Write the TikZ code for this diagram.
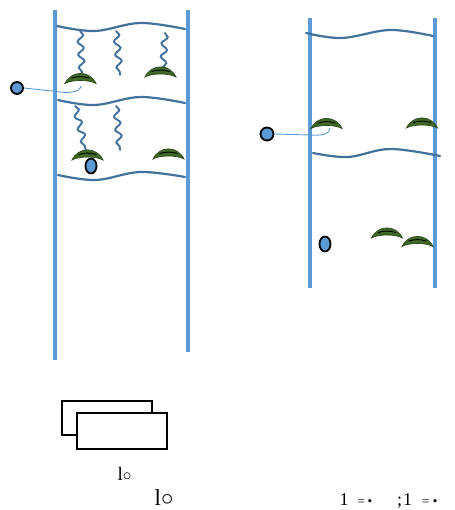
\documentclass[tikz,border=0pt]{standalone}
\usepackage{fontspec}
\setmainfont{Liberation Serif}
\usepackage{tikz}
\usetikzlibrary{decorations.pathmorphing,shapes.geometric}
\definecolor{railblue}{HTML}{5B9BD5}
\definecolor{rungblue}{HTML}{41719C}
\definecolor{browgreen}{HTML}{3F6A26}
\definecolor{browedge}{HTML}{2A4719}

\tikzset{
  rail/.style={draw=railblue, line width=3.2pt},
  rung/.style={draw=rungblue, line width=2.2pt, line cap=round},
  rope/.style={draw=rungblue, line width=1.9pt, line cap=round,
               decorate, decoration={snake, segment length=13pt, amplitude=3pt}},
  dot/.style={ellipse, draw=black, fill=railblue, line width=1.8pt, inner sep=0pt},
  thread/.style={draw=railblue, line width=0.9pt},
  card/.style={draw=black, fill=white, line width=1.8pt},
  brow/.pic={
    \fill[browgreen, draw=browedge, line width=0.7pt]
      (-15.5,5) .. controls (-9,-8.5) and (9,-8.5) .. (15.5,5)
      .. controls (9,1) and (-9,1) .. (-15.5,5) -- cycle;
    \draw[black, line width=0.9pt] (-9,-0.4) .. controls (-3,-2.4) and (3,-2.4) .. (9,-0.4);
  },
}

\begin{document}
\begin{tikzpicture}[x=1pt, y=-1pt]
\useasboundingbox (0,0) rectangle (454,510);

% left ladder
\draw[rail] (55,10) -- (55,360);
\draw[rail] (188,10) -- (188,352);
\draw[rung] plot[smooth, tension=0.6] coordinates {(57,26) (95,31) (140,23) (185,29)};
\draw[rung] plot[smooth, tension=0.6] coordinates {(58,100) (95,105) (140,97) (185,103)};
\draw[rung] plot[smooth, tension=0.6] coordinates {(58,175) (96,180) (140,172) (185,177)};

% ropes hanging from the rungs
\draw[rope] (80,31) -- (82,73);
\draw[rope] (116,31) -- (120,75);
\draw[rope] (165,33) -- (163,68);
\draw[rope] (75,106) -- (86,151);
\draw[rope] (116,106) -- (120,150);

\pic (b1) at (80.5,78.5) {brow};
\pic (b2) at (160.5,72) {brow};
\pic (b3) at (87.5,155) {brow};
\pic (b4) at (168.5,154) {brow};

\node[dot, minimum width=12, minimum height=12] (c1) at (17,88) {};
\node[dot, minimum width=11, minimum height=15] (c2) at (91,166) {};
\coordinate (h1) at (81,86);
\draw[thread] (c1.east) -- (52,91) .. controls (70,94) and (80,92) .. (h1);

% right ladder
\draw[rail] (310,18) -- (310,288);
\draw[rail] (435,18) -- (435,288);
\draw[rung] plot[smooth, tension=0.6] coordinates {(306,33) (342,38) (390,30) (433,36)};
\draw[rung] plot[smooth, tension=0.6] coordinates {(313,153) (348,157) (390,149) (440,156)};

\pic (b5) at (326.5,123.5) {brow};
\pic (b6) at (422,123) {brow};
\pic (b7) at (387,233) {brow};
\pic (b8) at (417.5,241.5) {brow};

\node[dot, minimum width=13, minimum height=13] (c3) at (267,134) {};
\node[dot, minimum width=11, minimum height=15] (c4) at (325,244) {};
\coordinate (h3) at (330,128);
\draw[thread] (c3.east) -- (310,135) .. controls (322,136) and (330,134) .. (h3);

% stacked cards
\draw[card] (62,401) rectangle (152,435);
\draw[card] (77,413) rectangle (167,449);

\node[font=\fontsize{19}{21}\selectfont, inner sep=0pt, anchor=base west] (m1) at (117.5,480) {l$\circ$};
\node[font=\fontsize{23}{25}\selectfont, inner sep=0pt, anchor=base west] (m2) at (154.5,505) {l$\circ$};
\node[font=\fontsize{18}{20}\selectfont, inner sep=0pt, anchor=base west] (m3) at (339.5,505.5)
  {1\hspace{9pt}{\fontsize{13}{13}\selectfont=\hspace{2.5pt}\textbullet}\hspace{25pt};\hspace{1pt}1\hspace{10pt}{\fontsize{13}{13}\selectfont=\hspace{3.5pt}\textbullet}};
\end{tikzpicture}
\end{document}
